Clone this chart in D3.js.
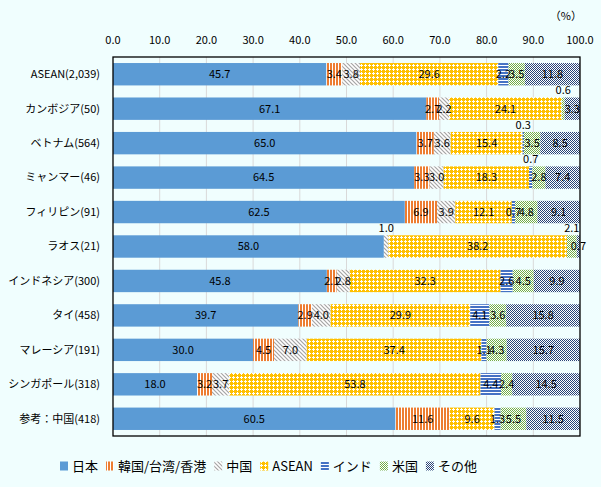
<!DOCTYPE html>
<html><head><meta charset="utf-8">
<script src="https://cdn.jsdelivr.net/npm/d3@7"></script>
<style>
html,body{margin:0;padding:0;background:#F0FEFE;}
svg{display:block;font-family:"Noto Sans CJK JP","Noto Sans",sans-serif;}
</style></head><body>
<svg id="c" width="601" height="487"></svg>
<script>
const categories = ["ASEAN(2,039)","カンボジア(50)","ベトナム(564)","ミャンマー(46)","フィリピン(91)","ラオス(21)","インドネシア(300)","タイ(458)","マレーシア(191)","シンガポール(318)","参考：中国(418)"];
const seriesNames = ["日本","韓国/台湾/香港","中国","ASEAN","インド","米国","その他"];
const japan  = [45.7,67.1,65.0,64.5,62.5,58.0,45.8,39.7,30.0,18.0,60.5];
const korea  = [3.4,2.7,3.7,3.3,6.9,0,2.1,2.9,4.5,3.2,11.6];
const china  = [3.8,2.2,3.6,3.0,3.9,1.0,2.8,4.0,7.0,3.7,0];
const asean  = [29.6,24.1,15.4,18.3,12.1,38.2,32.3,29.9,37.4,53.8,9.6];
const india  = [2.2,0,0.3,0.7,0.7,0,2.6,4.1,1.1,4.4,1.3];
const usa    = [3.5,0.6,3.5,2.8,4.8,2.1,4.5,3.6,4.3,2.4,5.5];
const other  = [11.8,3.3,8.5,7.4,9.1,0.7,9.9,15.8,15.7,14.5,11.5];
const tickValues = [0,10,20,30,40,50,60,70,80,90,100];
// labels drawn above the bar (row index, series index)
const raisedLabels = [[1,5],[2,4],[3,4],[5,2],[5,5]];

(function(){
const seriesValues = [japan,korea,china,asean,india,usa,other];
const svg = d3.select("#c");
const W=601,H=487;
svg.append("rect").attr("width",W).attr("height",H).attr("fill","#F0FEFE");

const defs = svg.append("defs");
function pat(id,w,h,bg,draw){
  const p = defs.append("pattern").attr("id",id).attr("patternUnits","userSpaceOnUse").attr("width",w).attr("height",h);
  p.append("rect").attr("width",w).attr("height",h).attr("fill",bg);
  draw(p);
}
function px(p,pts,c){ pts.forEach(([a,b])=>p.append("rect").attr("x",a).attr("y",b).attr("width",1).attr("height",1).attr("fill",c)); }
pat("p1",3,3,"#ffffff",p=>p.append("rect").attr("x",0).attr("y",0).attr("width",2).attr("height",3).attr("fill","#ED7D31"));
pat("p2",4,4,"#ffffff",p=>{
  p.append("path").attr("d","M-1,-1 L5,5 M-1,3 L1,5 M3,-1 L5,1").attr("stroke","#A5A5A5").attr("stroke-width",1.2);
});
pat("p3",4,4,"#FFC000",p=>px(p,[[1,0],[0,1],[1,1],[2,1],[1,2]],"#ffffff"));
pat("p4",3,3,"#ffffff",p=>p.append("rect").attr("x",0).attr("y",0).attr("width",3).attr("height",2).attr("fill","#4472C4"));
pat("p5",2,2,"#ffffff",p=>px(p,[[0,0],[1,1]],"#70AD47"));
pat("p6",2,2,"#ffffff",p=>px(p,[[0,0],[1,1]],"#264478"));
const fills = ["#5B9BD5","url(#p1)","url(#p2)","url(#p3)","url(#p4)","url(#p5)","url(#p6)"];

const pL=113,pR=580,pT=57,pB=436;
const x = d3.scaleLinear().domain([0,100]).range([pL,pR]);
const y = d3.scaleBand().domain(categories).range([pT,pB]).paddingInner(0.35).paddingOuter(0.175);

svg.append("g").selectAll("line").data(tickValues.slice(1,-1)).join("line")
  .attr("x1",d=>x(d)).attr("x2",d=>x(d)).attr("y1",pT).attr("y2",pB)
  .attr("stroke","#D9D9D9").attr("stroke-width",1);

const rows = categories.map((c,i)=>{const o={cat:c}; seriesNames.forEach((s,j)=>o[s]=seriesValues[j][i]); return o;});
const stack = d3.stack().keys(seriesNames)(rows);

const gBars = svg.append("g");
stack.forEach((layer,j)=>{
  gBars.append("g").selectAll("rect").data(layer).join("rect")
    .attr("x",d=>x(d[0])).attr("width",d=>x(d[1])-x(d[0]))
    .attr("y",d=>y(d.data.cat)).attr("height",y.bandwidth())
    .attr("fill",fills[j]);
});

const gLab = svg.append("g").attr("font-size",11).attr("fill","#000").attr("text-anchor","middle");
stack.forEach((layer,j)=>{
  layer.forEach((d,i)=>{
    const v = seriesValues[j][i];
    if(!v) return;
    const raised = raisedLabels.some(r=>r[0]===i&&r[1]===j);
    const cx = (x(d[0])+x(d[1]))/2;
    const cy = raised ? y(d.data.cat)-7 : y(d.data.cat)+y.bandwidth()/2;
    gLab.append("text").attr("x",cx).attr("y",cy).attr("dy","0.35em").text(v.toFixed(1));
  });
});

svg.append("rect").attr("x",pL).attr("y",pT).attr("width",pR-pL).attr("height",pB-pT)
  .attr("fill","none").attr("stroke","#000").attr("stroke-width",1.3);

svg.append("g").attr("font-size",11).attr("text-anchor","middle").selectAll("text").data(tickValues).join("text")
  .attr("x",d=>x(d)).attr("y",40).attr("dy","0.35em").attr("fill","#000").text(d=>d.toFixed(1));

svg.append("text").attr("x",582).attr("y",16).attr("dy","0.35em").attr("text-anchor","end")
  .attr("font-size",11).attr("fill","#000").text("（%）");

svg.append("g").attr("font-size",11).attr("text-anchor","end").selectAll("text").data(categories).join("text")
  .attr("x",100).attr("y",d=>y(d)+y.bandwidth()/2).attr("dy","0.35em").attr("fill","#000").text(d=>d);

const lg = svg.append("g").attr("font-size",13);
let lx = 60; const ly = 466;
seriesNames.forEach((s,j)=>{
  lg.append("rect").attr("x",lx).attr("y",ly-4.5).attr("width",8).attr("height",9).attr("fill",fills[j]);
  const t = lg.append("text").attr("x",lx+12).attr("y",ly).attr("dy","0.35em").attr("fill","#000").text(s);
  lx = lx+12+t.node().getComputedTextLength()+8;
});
})();
</script></body></html>
